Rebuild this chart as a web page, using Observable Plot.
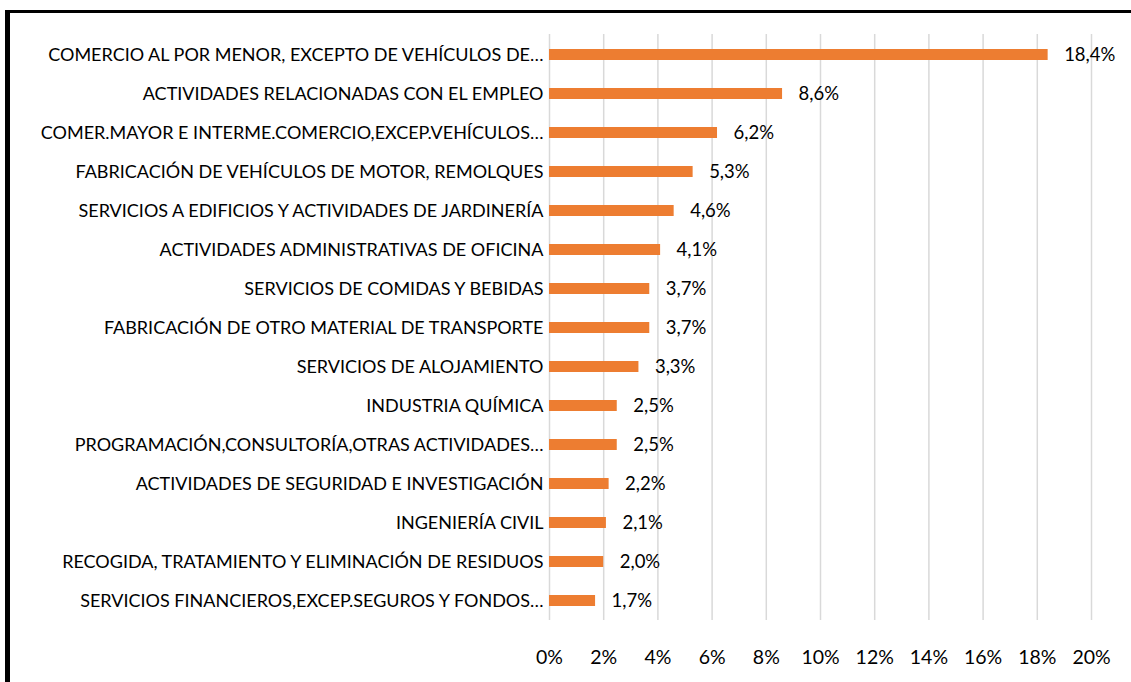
<!DOCTYPE html>
<html>
<head>
<meta charset="utf-8">
<script src="https://cdn.jsdelivr.net/npm/d3@7"></script>
<script src="https://cdn.jsdelivr.net/npm/@observablehq/plot@0.6"></script>
<style>
  html, body { margin: 0; padding: 0; background: #fff; }
  #wrap { position: relative; width: 1131px; height: 682px; overflow: hidden; }
  #chart { position: absolute; left: 0; top: 0; }
  #bl { position: absolute; left: 5px; top: 10px; width: 5px; height: 672px; background: #000; }
  #bt { position: absolute; left: 5px; top: 10px; width: 1126px; height: 3px; background: #000; }
</style>
</head>
<body>
<div id="wrap"><div id="chart"></div><div id="bl"></div><div id="bt"></div></div>
<script>
const categories = [
  "COMERCIO AL POR MENOR, EXCEPTO DE VEHÍCULOS DE…",
  "ACTIVIDADES RELACIONADAS CON EL EMPLEO",
  "COMER.MAYOR E INTERME.COMERCIO,EXCEP.VEHÍCULOS…",
  "FABRICACIÓN DE VEHÍCULOS DE MOTOR, REMOLQUES",
  "SERVICIOS A EDIFICIOS Y ACTIVIDADES DE JARDINERÍA",
  "ACTIVIDADES ADMINISTRATIVAS DE OFICINA",
  "SERVICIOS DE COMIDAS Y BEBIDAS",
  "FABRICACIÓN DE OTRO MATERIAL DE TRANSPORTE",
  "SERVICIOS DE ALOJAMIENTO",
  "INDUSTRIA QUÍMICA",
  "PROGRAMACIÓN,CONSULTORÍA,OTRAS ACTIVIDADES…",
  "ACTIVIDADES DE SEGURIDAD E INVESTIGACIÓN",
  "INGENIERÍA CIVIL",
  "RECOGIDA, TRATAMIENTO Y ELIMINACIÓN DE RESIDUOS",
  "SERVICIOS FINANCIEROS,EXCEP.SEGUROS Y FONDOS…"
];
const values = [18.4, 8.6, 6.2, 5.3, 4.6, 4.1, 3.7, 3.7, 3.3, 2.5, 2.5, 2.2, 2.1, 2.0, 1.7];
const xTicks = [0, 2, 4, 6, 8, 10, 12, 14, 16, 18, 20];

const data = categories.map((c, i) => ({cat: c, v: values[i]}));
const fmt = v => v.toFixed(1).replace(".", ",") + "%";

const chart = Plot.plot({
  width: 1131,
  height: 682,
  marginLeft: 549,
  marginRight: 40,
  marginTop: 34,
  marginBottom: 62,
  style: {fontFamily: "Lato, sans-serif", fontSize: "18px", color: "#000", background: "transparent"},
  x: {domain: [0, 20], ticks: xTicks, tickFormat: d => d + "%", label: null},
  y: {domain: categories, paddingInner: 0.72, paddingOuter: 0.36, label: null},
  marks: [
    Plot.ruleX(xTicks, {stroke: "#d9d9d9", strokeWidth: 1.5}),
    Plot.axisX({ticks: xTicks, tickFormat: d => d + "%", tickSize: 0, tickPadding: 30, fontSize: 19.5, fill: "#000", label: null}),
    Plot.axisY({tickSize: 0, tickPadding: 6, fontSize: 18, fill: "#000", label: null, textOverflow: null}),
    Plot.barX(data, {x: "v", y: "cat", fill: "#ED7D31"}),
    Plot.text(data, {x: "v", y: "cat", text: d => fmt(d.v), textAnchor: "start", dx: 16, fontSize: 18.5, fill: "#000"})
  ]
});
document.getElementById("chart").appendChild(chart);
</script>
</body>
</html>
